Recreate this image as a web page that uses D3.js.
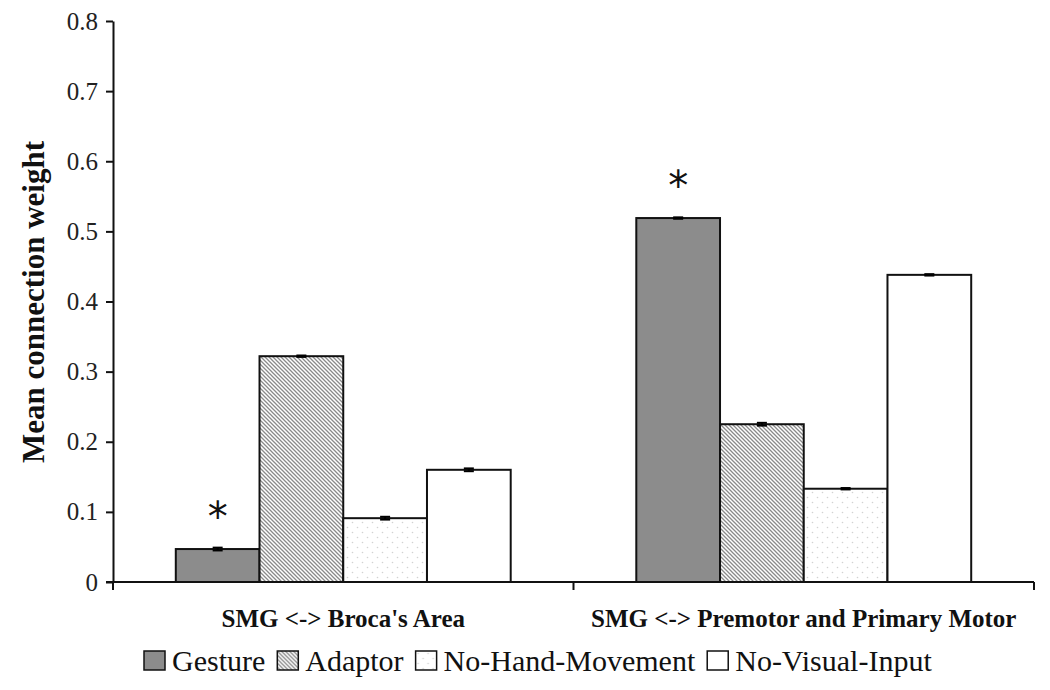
<!DOCTYPE html>
<html>
<head>
<meta charset="utf-8">
<script src="https://cdn.jsdelivr.net/npm/d3@7"></script>
<style>
  html, body { margin: 0; padding: 0; background: #ffffff; }
  svg { display: block; }
</style>
</head>
<body>
<svg id="chart" width="1050" height="690"></svg>
<script>
// ---- data ----
const categories = ["SMG <-> Broca's Area", "SMG <-> Premotor and Primary Motor"];
const seriesNames = ["Gesture", "Adaptor", "No-Hand-Movement", "No-Visual-Input"];
const gestureValues = [0.047, 0.519];
const adaptorValues = [0.322, 0.225];
const noHandValues = [0.091, 0.133];
const noVisualValues = [0.160, 0.438];
const gestureErr = [0.002, 0.001];
const adaptorErr = [0.001, 0.002];
const noHandErr = [0.002, 0.001];
const noVisualErr = [0.002, 0.001];
const significant = [true, false, false, false]; // asterisk over Gesture bars
const yTicks = [0, 0.1, 0.2, 0.3, 0.4, 0.5, 0.6, 0.7, 0.8];
const yTitle = "Mean connection weight";

const seriesVals = [gestureValues, adaptorValues, noHandValues, noVisualValues];
const seriesErrs = [gestureErr, adaptorErr, noHandErr, noVisualErr];

const svg = d3.select("#chart");
const serif = "'Liberation Serif', 'Times New Roman', serif";

// patterns
const defs = svg.append("defs");
const hatch = defs.append("pattern").attr("id", "hatch")
  .attr("patternUnits", "userSpaceOnUse").attr("width", 4).attr("height", 4);
hatch.append("rect").attr("width", 4).attr("height", 4).attr("fill", "#ffffff");
hatch.append("path").attr("d", "M-1,-1 L5,5 M-1,3 L1,5 M3,-1 L5,1")
  .attr("stroke", "#8a8a8a").attr("stroke-width", 1.3);
const dots = defs.append("pattern").attr("id", "dots")
  .attr("patternUnits", "userSpaceOnUse").attr("width", 10).attr("height", 10);
dots.append("rect").attr("width", 10).attr("height", 10).attr("fill", "#ffffff");
dots.append("circle").attr("cx", 2.5).attr("cy", 2.5).attr("r", 0.8).attr("fill", "#d2d2d2");
dots.append("circle").attr("cx", 7.5).attr("cy", 7.5).attr("r", 0.8).attr("fill", "#d2d2d2");

const fills = ["#8c8c8c", "url(#hatch)", "url(#dots)", "#ffffff"];

// scales
const x0 = d3.scaleBand().domain(categories).range([113, 1034]).paddingInner(0).paddingOuter(0);
const x1 = d3.scaleBand().domain(seriesNames).range([0, x0.bandwidth()]).paddingInner(0).paddingOuter(0.75);
const y = d3.scaleLinear().domain([0, 0.8]).range([582, 21]);

// bars
const barData = [];
categories.forEach((c, ci) => {
  seriesNames.forEach((s, si) => {
    barData.push({ c, s, si, v: seriesVals[si][ci], e: seriesErrs[si][ci] });
  });
});

const g = svg.append("g");
g.selectAll("rect.bar").data(barData).enter().append("rect")
  .attr("class", "bar")
  .attr("x", d => x0(d.c) + x1(d.s))
  .attr("y", d => y(d.v))
  .attr("width", x1.bandwidth())
  .attr("height", d => y(0) - y(d.v))
  .attr("fill", d => fills[d.si])
  .attr("stroke", "#111")
  .attr("stroke-width", 2);

// error bars
const eb = g.selectAll("g.err").data(barData).enter().append("g").attr("class", "err");
eb.append("line")
  .attr("x1", d => x0(d.c) + x1(d.s) + x1.bandwidth() / 2)
  .attr("x2", d => x0(d.c) + x1(d.s) + x1.bandwidth() / 2)
  .attr("y1", d => y(d.v + d.e)).attr("y2", d => y(d.v - d.e))
  .attr("stroke", "#000").attr("stroke-width", 2);
[1, -1].forEach(sign => {
  eb.append("line")
    .attr("x1", d => x0(d.c) + x1(d.s) + x1.bandwidth() / 2 - 5)
    .attr("x2", d => x0(d.c) + x1(d.s) + x1.bandwidth() / 2 + 5)
    .attr("y1", d => y(d.v + sign * d.e)).attr("y2", d => y(d.v + sign * d.e))
    .attr("stroke", "#000").attr("stroke-width", 2);
});

// asterisks
g.selectAll("text.star").data(barData.filter(d => significant[d.si])).enter().append("text")
  .attr("class", "star")
  .attr("x", d => x0(d.c) + x1(d.s) + x1.bandwidth() / 2)
  .attr("y", d => y(d.v) - 18)
  .attr("text-anchor", "middle")
  .attr("font-family", "'DejaVu Sans', sans-serif")
  .attr("font-size", 40)
  .attr("fill", "#111")
  .text("*");

// y axis
const yAxis = d3.axisLeft(y).tickValues(yTicks)
  .tickFormat(d => d === 0 ? "0" : d3.format(".1f")(d))
  .tickSizeInner(7).tickSizeOuter(0).tickPadding(8);
const ya = svg.append("g").attr("transform", "translate(113,0)").call(yAxis);
ya.select(".domain").attr("stroke", "#111").attr("stroke-width", 2);
ya.selectAll(".tick line").attr("stroke", "#111").attr("stroke-width", 2);
ya.selectAll(".tick text").attr("font-family", serif).attr("font-size", 25).attr("fill", "#222");

// x axis
const xa = svg.append("g").attr("transform", "translate(0,582)");
xa.append("line").attr("x1", 106).attr("x2", 1034).attr("y1", 0).attr("y2", 0)
  .attr("stroke", "#111").attr("stroke-width", 2);
const bounds = [x0.range()[0]].concat(categories.map(c => x0(c) + x0.bandwidth()));
xa.selectAll("line.tick").data(bounds).enter().append("line").attr("class", "tick")
  .attr("x1", d => d).attr("x2", d => d).attr("y1", 0).attr("y2", 8)
  .attr("stroke", "#111").attr("stroke-width", 2);
xa.selectAll("text.cat").data(categories).enter().append("text")
  .attr("class", "cat")
  .attr("x", d => x0(d) + x0.bandwidth() / 2)
  .attr("y", 45)
  .attr("text-anchor", "middle")
  .attr("font-family", serif).attr("font-weight", "bold").attr("font-size", 25)
  .attr("fill", "#111")
  .text(d => d);

// y title
svg.append("text")
  .attr("transform", "translate(44,302) rotate(-90)")
  .attr("text-anchor", "middle")
  .attr("font-family", serif).attr("font-weight", "bold").attr("font-size", 31)
  .attr("fill", "#111")
  .text(yTitle);

// legend
const leg = svg.append("g").attr("transform", "translate(144,671)");
let lx = 0;
seriesNames.forEach((s, i) => {
  const item = leg.append("g").attr("transform", `translate(${lx},0)`);
  item.append("rect").attr("x", 0).attr("y", -20).attr("width", 21).attr("height", 19)
    .attr("fill", fills[i]).attr("stroke", "#111").attr("stroke-width", 1.5);
  const t = item.append("text").attr("x", 28).attr("y", 0)
    .attr("font-family", serif).attr("font-size", 30).attr("fill", "#111").text(s);
  lx += 28 + t.node().getComputedTextLength() + 12;
});
</script>
</body>
</html>
